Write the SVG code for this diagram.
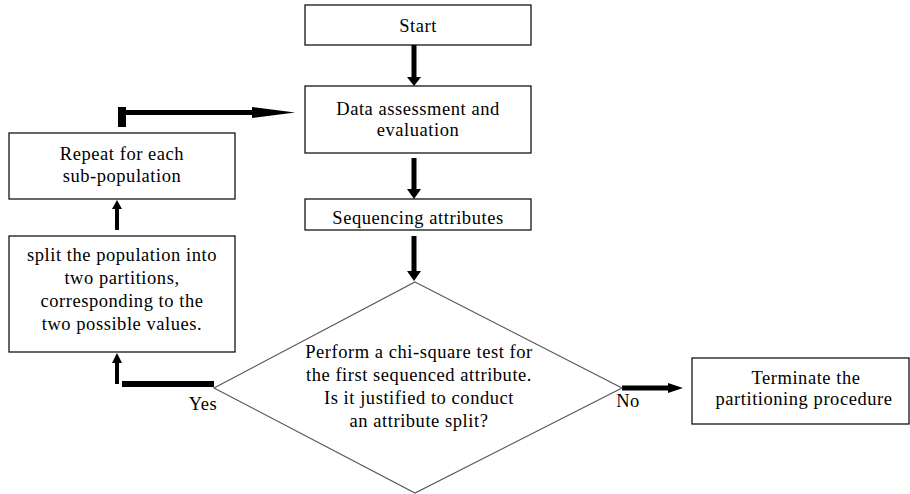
<svg xmlns="http://www.w3.org/2000/svg" width="910" height="494" viewBox="0 0 910 494">
<style>
.box{fill:#fff;stroke:#000;stroke-width:1.2}
.dia{fill:#fff;stroke:#5a5a5a;stroke-width:1.2}
text{font-family:'Liberation Serif','DejaVu Serif',serif;font-size:18.5px;fill:#000;text-anchor:middle;letter-spacing:0.55px}
.shaft{stroke:#000;fill:none}
.head{fill:#000;stroke:none}
</style>
<rect width="910" height="494" fill="#fff"/>
<g id="connectors">
  <line class="shaft" x1="414" y1="45" x2="414" y2="78" stroke-width="5"/>
  <polygon class="head" points="407,77 421,77 414,86"/>
  <line class="shaft" x1="414" y1="158" x2="414" y2="190" stroke-width="5"/>
  <polygon class="head" points="407,189 421,189 414,199"/>
  <line class="shaft" x1="414" y1="236" x2="414" y2="272" stroke-width="5"/>
  <polygon class="head" points="407,271 421,271 414,281"/>
  <line class="shaft" x1="214" y1="384" x2="122" y2="384" stroke-width="6"/>
  <line class="shaft" x1="117" y1="384" x2="117" y2="362" stroke-width="4"/>
  <polygon class="head" points="112,363 122,363 117,353"/>
  <line class="shaft" x1="117" y1="230" x2="117" y2="208" stroke-width="4"/>
  <polygon class="head" points="112,209 122,209 117,200"/>
  <line class="shaft" x1="122" y1="127" x2="122" y2="107" stroke-width="8"/>
  <line class="shaft" x1="126" y1="112.5" x2="256" y2="112.5" stroke-width="5"/>
  <polygon class="head" points="252,107 295,112.5 252,118"/>
  <line class="shaft" x1="622" y1="388" x2="670" y2="388" stroke-width="5"/>
  <polygon class="head" points="668,383 683,388 668,393"/>
</g>
<g id="start">
  <rect class="box" x="305" y="5" width="226" height="40"/>
  <text x="418" y="32">Start</text>
</g>
<g id="data">
  <rect class="box" x="305" y="86" width="226" height="67"/>
  <text x="418" y="115">Data assessment and</text>
  <text x="418" y="136">evaluation</text>
</g>
<g id="seq">
  <rect class="box" x="305" y="199" width="226" height="31"/>
  <text x="418" y="224">Sequencing attributes</text>
</g>
<g id="decision">
  <polygon class="dia" points="415,282 622,388 415,493 214,388"/>
  <text x="419" y="358">Perform a chi-square test for</text>
  <text x="419" y="381">the first sequenced attribute.</text>
  <text x="419" y="404">Is it justified to conduct</text>
  <text x="419" y="427">an attribute split?</text>
</g>
<g id="repeat">
  <rect class="box" x="9" y="133" width="226" height="66"/>
  <text x="122" y="160">Repeat for each</text>
  <text x="122" y="182">sub-population</text>
</g>
<g id="split">
  <rect class="box" x="9" y="236" width="226" height="116"/>
  <text x="122" y="261">split the population into</text>
  <text x="122" y="284">two partitions,</text>
  <text x="122" y="307">corresponding to the</text>
  <text x="122" y="330">two possible values.</text>
</g>
<g id="terminate">
  <rect class="box" x="692" y="358" width="217" height="66"/>
  <text x="806" y="384">Terminate the</text>
  <text x="804" y="405">partitioning procedure</text>
</g>
<g id="labels">
  <text x="203" y="410">Yes</text>
  <text x="628" y="407">No</text>
</g>
</svg>
